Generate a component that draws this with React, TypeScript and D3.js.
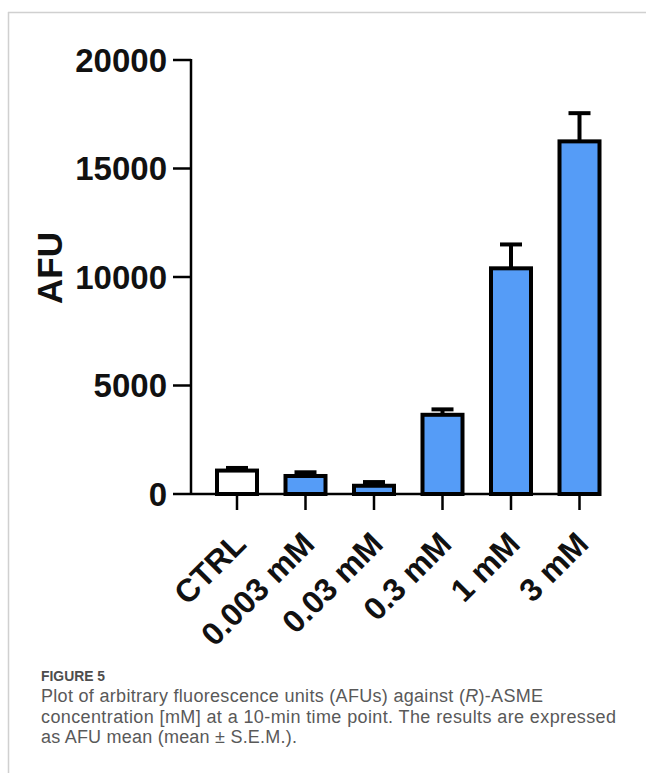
import React from "react";
import * as d3 from "d3";

const categories = ["CTRL", "0.003 mM", "0.03 mM", "0.3 mM", "1 mM", "3 mM"];
const means = [1080, 830, 380, 3650, 10400, 16250];
const sems = [120, 170, 170, 250, 1100, 1300];
const fills = ["#ffffff", "#559cf7", "#559cf7", "#559cf7", "#559cf7", "#559cf7"];
const yTicks = [0, 5000, 10000, 15000, 20000];
const captionTitle = "FIGURE 5";
const captionLine1a = "Plot of arbitrary fluorescence units (AFUs) against (";
const captionLine1b = "R";
const captionLine1c = ")-ASME";
const captionLine2 = "concentration [mM] at a 10-min time point. The results are expressed";
const captionLine3 = "as AFU mean (mean ± S.E.M.).";

export default function App() {
  const W = 646, H = 773;
  const axisX = 191;
  const y = d3.scaleLinear().domain([0, 20000]).range([494, 60]);
  const x = d3.scalePoint<string>().domain(categories).range([237, 579.5]);
  const barW = 40;
  const capW = 22;
  const tickFont = "'Liberation Sans', Arial, sans-serif";
  const capFont = "'Liberation Sans', Arial, sans-serif";
  const capX = 41;

  return (
    <svg width={W} height={H} style={{ position: "absolute", left: 0, top: 0, background: "#fff" }}>
      {/* frame */}
      <line x1={8.5} y1={12} x2={8.5} y2={H} stroke="#d0d0d0" strokeWidth={1.5} />
      <line x1={8} y1={12.5} x2={W} y2={12.5} stroke="#d0d0d0" strokeWidth={1.5} />

      {/* bars */}
      {categories.map((c, i) => {
        const cx = x(c)!;
        const top = y(means[i]);
        const errTop = y(means[i] + sems[i]);
        return (
          <g key={c}>
            <line x1={cx} x2={cx} y1={top} y2={errTop} stroke="#000" strokeWidth={4} />
            <line x1={cx - capW / 2} x2={cx + capW / 2} y1={errTop} y2={errTop} stroke="#000" strokeWidth={4} />
            <rect x={cx - barW / 2} y={top} width={barW} height={y(0) - top} fill={fills[i]} stroke="#000" strokeWidth={4} />
          </g>
        );
      })}

      {/* y axis */}
      <line x1={axisX} x2={axisX} y1={y(20000) - 1} y2={y(0)} stroke="#000" strokeWidth={2.5} />
      {yTicks.map((t) => (
        <g key={t}>
          <line x1={axisX - 18} x2={axisX} y1={y(t)} y2={y(t)} stroke="#000" strokeWidth={2.5} />
          <text x={axisX - 24} y={y(t)} dy="0.36em" textAnchor="end" fontFamily={tickFont} fontWeight="bold" fontSize={33} fill="#111">
            {t}
          </text>
        </g>
      ))}
      <text transform={`translate(62,268) rotate(-90)`} textAnchor="middle" fontFamily={tickFont} fontWeight="bold" fontSize={35} fill="#111">
        AFU
      </text>

      {/* x axis */}
      <line x1={axisX} x2={600} y1={y(0)} y2={y(0)} stroke="#000" strokeWidth={2.5} />
      {categories.map((c) => {
        const cx = x(c)!;
        return (
          <g key={c}>
            <line x1={cx} x2={cx} y1={y(0)} y2={y(0) + 16} stroke="#000" strokeWidth={2.5} />
            <text transform={`translate(${cx - 5},${y(0) + 36}) rotate(-45)`} textAnchor="end" fontFamily={tickFont} fontWeight="bold" fontSize={32} fill="#111" dy="0.7em">
              {c}
            </text>
          </g>
        );
      })}

      {/* caption */}
      <text x={capX} y={681} fontFamily={capFont} fontSize={14.5} fill="#4d4d4d" fontWeight="bold" textLength={64} lengthAdjust="spacingAndGlyphs">
        {captionTitle}
      </text>
      <text x={capX} y={702} fontFamily={capFont} fontSize={18} fill="#595959" textLength={502}>
        {captionLine1a}
        <tspan fontStyle="italic">{captionLine1b}</tspan>
        {captionLine1c}
      </text>
      <text x={capX} y={722.5} fontFamily={capFont} fontSize={18} fill="#595959" textLength={575}>
        {captionLine2}
      </text>
      <text x={capX} y={743} fontFamily={capFont} fontSize={18} fill="#595959" textLength={256}>
        {captionLine3}
      </text>
    </svg>
  );
}
